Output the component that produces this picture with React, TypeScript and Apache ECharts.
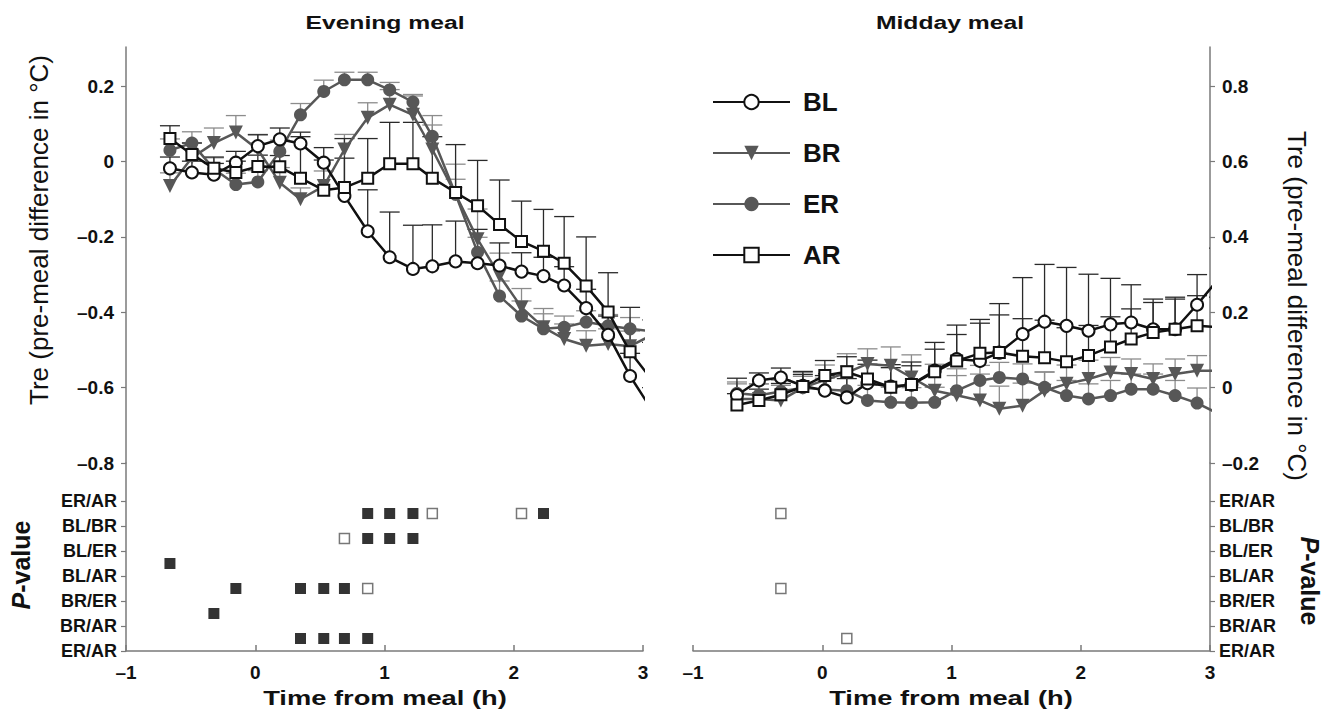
import React, { useEffect, useRef } from "react";
import * as echarts from "echarts";

// ---- data -------------------------------------------------------------
const timesH = [-0.66, -0.49, -0.32, -0.15, 0.02, 0.19, 0.35, 0.53, 0.69, 0.87, 1.04, 1.22, 1.37, 1.55, 1.72, 1.89, 2.06, 2.23, 2.39, 2.56, 2.73, 2.9, 3.07];

// Evening meal (left axis, °C)
const blEvening = [-0.018, -0.029, -0.035, -0.003, 0.041, 0.059, 0.048, -0.003, -0.091, -0.185, -0.254, -0.285, -0.278, -0.265, -0.27, -0.276, -0.292, -0.304, -0.329, -0.389, -0.46, -0.569, -0.66];
const blEveningErr = [0.03, 0.03, 0.03, 0.03, 0.03, 0.03, 0.03, 0.04, 0.1, 0.11, 0.12, 0.116, 0.11, 0.107, 0.09, 0.06, 0.05, 0.05, 0.05, 0.05, 0.05, 0.06, 0.06];
const brEvening = [-0.065, 0.01, 0.049, 0.077, 0.032, -0.056, -0.1, -0.065, 0.032, 0.116, 0.151, 0.124, 0.032, -0.087, -0.206, -0.303, -0.387, -0.44, -0.471, -0.489, -0.484, -0.49, -0.46];
const brEveningErr = [0.035, 0.04, 0.04, 0.045, 0.04, 0.04, 0.03, 0.04, 0.04, 0.04, 0.04, 0.05, 0.09, 0.08, 0.08, 0.06, 0.05, 0.05, 0.04, 0.04, 0.04, 0.04, 0.04];
const erEvening = [0.03, 0.049, -0.02, -0.061, -0.054, 0.027, 0.124, 0.186, 0.217, 0.217, 0.19, 0.158, 0.067, -0.087, -0.241, -0.357, -0.41, -0.444, -0.44, -0.426, -0.436, -0.444, -0.45];
const erEveningErr = [0.03, 0.03, 0.03, 0.03, 0.03, 0.03, 0.03, 0.03, 0.02, 0.02, 0.02, 0.02, 0.03, 0.04, 0.04, 0.04, 0.04, 0.04, 0.03, 0.03, 0.03, 0.03, 0.03];
const arEvening = [0.061, 0.019, -0.018, -0.029, -0.013, -0.014, -0.044, -0.076, -0.069, -0.044, -0.006, -0.006, -0.044, -0.082, -0.117, -0.167, -0.212, -0.238, -0.27, -0.33, -0.399, -0.505, -0.58];
const arEveningErr = [0.034, 0.03, 0.03, 0.03, 0.03, 0.03, 0.11, 0.08, 0.13, 0.105, 0.11, 0.11, 0.11, 0.127, 0.12, 0.118, 0.107, 0.111, 0.124, 0.13, 0.104, 0.118, 0.1];

// Midday meal (right axis, °C)
const blMidday = [-0.02, 0.019, 0.027, 0.005, -0.008, -0.026, 0.012, 0.003, 0.008, 0.045, 0.076, 0.071, 0.093, 0.142, 0.175, 0.164, 0.151, 0.168, 0.173, 0.155, 0.155, 0.22, 0.29];
const blMiddayErr = [0.045, 0.02, 0.025, 0.03, 0.04, 0.05, 0.05, 0.05, 0.05, 0.075, 0.09, 0.11, 0.13, 0.15, 0.152, 0.155, 0.15, 0.122, 0.1, 0.08, 0.085, 0.08, 0.08];
const brMidday = [-0.03, -0.03, -0.034, 0.0, 0.02, 0.04, 0.063, 0.058, 0.027, -0.008, -0.02, -0.034, -0.056, -0.048, -0.008, 0.01, 0.023, 0.04, 0.036, 0.023, 0.036, 0.045, 0.045];
const brMiddayErr = [0.04, 0.04, 0.04, 0.04, 0.04, 0.05, 0.04, 0.05, 0.06, 0.07, 0.07, 0.07, 0.06, 0.06, 0.05, 0.05, 0.05, 0.04, 0.04, 0.04, 0.04, 0.04, 0.04];
const erMidday = [-0.015, -0.02, -0.01, 0.0, -0.005, -0.008, -0.034, -0.039, -0.04, -0.039, -0.008, 0.019, 0.027, 0.023, 0.001, -0.021, -0.03, -0.021, -0.004, -0.004, -0.021, -0.041, -0.07];
const erMiddayErr = [0.03, 0.03, 0.03, 0.03, 0.03, 0.04, 0.04, 0.04, 0.04, 0.04, 0.04, 0.04, 0.04, 0.04, 0.04, 0.04, 0.04, 0.04, 0.04, 0.04, 0.04, 0.04, 0.04];
const arMidday = [-0.046, -0.034, -0.019, 0.003, 0.032, 0.042, 0.023, 0.001, 0.008, 0.042, 0.071, 0.091, 0.093, 0.083, 0.079, 0.069, 0.085, 0.108, 0.129, 0.146, 0.155, 0.164, 0.16];
const arMiddayErr = [0.03, 0.03, 0.03, 0.04, 0.04, 0.04, 0.05, 0.06, 0.06, 0.06, 0.07, 0.08, 0.1, 0.1, 0.1, 0.09, 0.08, 0.08, 0.08, 0.08, 0.08, 0.08, 0.08];

// P-value rows (bottom = 0)
const pairLabels = ["ER/AR", "BR/AR", "BR/ER", "BL/AR", "BL/ER", "BL/BR", "ER/AR"];
// [time (h), row position, significant (1 = filled, 0 = open)]
const pEvening: [number, number, number][] = [
  [0.87, 5.5, 1], [1.04, 5.5, 1], [1.22, 5.5, 1], [1.37, 5.5, 0], [2.06, 5.5, 0], [2.23, 5.5, 1],
  [0.69, 4.5, 0], [0.87, 4.5, 1], [1.04, 4.5, 1], [1.22, 4.5, 1],
  [-0.66, 3.5, 1],
  [-0.15, 2.5, 1], [0.35, 2.5, 1], [0.53, 2.5, 1], [0.69, 2.5, 1], [0.87, 2.5, 0],
  [-0.32, 1.5, 1],
  [0.35, 0.5, 1], [0.53, 0.5, 1], [0.69, 0.5, 1], [0.87, 0.5, 1],
];
const pMidday: [number, number, number][] = [
  [-0.32, 5.5, 0], [-0.32, 2.5, 0], [0.19, 0.5, 0],
];

const xTicks = [-1, 0, 1, 2, 3];
const eveningTicks = [-0.8, -0.6, -0.4, -0.2, 0, 0.2];
const middayTicks = [-0.2, 0, 0.2, 0.4, 0.6, 0.8];
const pairTicks = [0, 1, 2, 3, 4, 5, 6];

// ---- styles -----------------------------------------------------------
const FONT = '"Liberation Sans", Arial, Helvetica, sans-serif';
const BLACK = "#111111";
const GRAY = "#575757";
const AXIS = "#7a7a7a";

type SeriesStyle = { symbol: string; size: number; rotate: number; line: string; fill: string; border: string; bar: string };
const styles: Record<string, SeriesStyle> = {
  BL: { symbol: "circle", size: 12, rotate: 0, line: BLACK, fill: "#ffffff", border: BLACK, bar: "#2a2a2a" },
  BR: { symbol: "triangle", size: 14, rotate: 180, line: GRAY, fill: GRAY, border: GRAY, bar: "#8c8c8c" },
  ER: { symbol: "circle", size: 13, rotate: 0, line: GRAY, fill: GRAY, border: GRAY, bar: "#8c8c8c" },
  AR: { symbol: "rect", size: 11, rotate: 0, line: BLACK, fill: "#ffffff", border: BLACK, bar: "#2a2a2a" },
};

const fmtTemp = (v: number) => {
  const r = Math.round(v * 10) / 10;
  if (r === 0) return "0";
  return (r < 0 ? "\u2013" : "") + Math.abs(r).toFixed(1);
};
const fmtTime = (v: number) => (v < 0 ? "\u2013" + Math.abs(v) : String(v));

function lineSeries(name: string, vals: number[], axis: number) {
  const s = styles[name];
  return {
    type: "line",
    name,
    xAxisIndex: axis,
    yAxisIndex: axis,
    data: timesH.map((t, i) => [t, vals[i]]),
    symbol: s.symbol,
    symbolSize: s.size,
    symbolRotate: s.rotate,
    showAllSymbol: true,
    clip: true,
    z: s.line === BLACK ? 4 : 3,
    lineStyle: { color: s.line, width: 2.5 },
    itemStyle: { color: s.fill, borderColor: s.border, borderWidth: s.fill === "#ffffff" ? 2 : 0, opacity: 1 },
    emphasis: { disabled: true },
  };
}

function errSeries(name: string, vals: number[], errs: number[], axis: number) {
  const s = styles[name];
  return {
    type: "custom",
    name: name + " SEM",
    xAxisIndex: axis,
    yAxisIndex: axis,
    clip: true,
    silent: true,
    z: 2,
    data: timesH.map((t, i) => [t, vals[i], vals[i] + errs[i]]),
    encode: { x: 0, y: [1, 2] },
    renderItem: (params: any, api: any) => {
      const x = api.value(0);
      const p0 = api.coord([x, api.value(1)]);
      const p1 = api.coord([x, api.value(2)]);
      const half = 10;
      const st = { stroke: s.bar, lineWidth: 1.3 };
      return {
        type: "group",
        children: [
          { type: "line", shape: { x1: p0[0], y1: p0[1], x2: p1[0], y2: p1[1] }, style: st },
          { type: "line", shape: { x1: p1[0] - half, y1: p1[1], x2: p1[0] + half, y2: p1[1] }, style: st },
        ],
      };
    },
  };
}

function pSeries(points: [number, number, number][], axis: number) {
  return {
    type: "scatter",
    xAxisIndex: axis,
    yAxisIndex: axis,
    symbol: "rect",
    z: 3,
    data: points.map(([t, r, sig]) => ({
      value: [t, r],
      symbolSize: sig ? 11 : 10,
      itemStyle: sig ? { color: "#000000" } : { color: "#ffffff", borderColor: "#555555", borderWidth: 1.5 },
    })),
    emphasis: { disabled: true },
  };
}

const tickLabelStyle = { fontFamily: FONT, fontWeight: "bold" as const, fontSize: 19, color: BLACK };

function xAxis(grid: number, visible: boolean) {
  return {
    type: "value",
    gridIndex: grid,
    min: -1,
    max: 3,
    interval: 1,
    show: visible,
    axisLine: { show: visible, onZero: false, lineStyle: { color: AXIS, width: 1.5 } },
    axisTick: { show: visible, inside: true, length: 6, customValues: xTicks, lineStyle: { color: AXIS, width: 1.5 } },
    axisLabel: { show: visible, customValues: xTicks, formatter: fmtTime, margin: 12, ...tickLabelStyle },
    splitLine: { show: false },
  };
}

function tempYAxis(grid: number, pos: string, min: number, max: number, ticks: number[]) {
  return {
    type: "value",
    gridIndex: grid,
    position: pos,
    min,
    max,
    interval: 0.2,
    axisLine: { show: true, onZero: false, lineStyle: { color: AXIS, width: 1.5 } },
    axisTick: { show: true, length: 5, customValues: ticks, lineStyle: { color: AXIS, width: 1.2 } },
    axisLabel: { customValues: ticks, formatter: fmtTemp, margin: 12, ...tickLabelStyle },
    splitLine: { show: false },
  };
}

function pairYAxis(grid: number, pos: string) {
  return {
    type: "value",
    gridIndex: grid,
    position: pos,
    min: 0,
    max: 7.52,
    interval: 1,
    axisLine: { show: true, onZero: false, lineStyle: { color: AXIS, width: 1.5 } },
    axisTick: { show: true, length: 5, customValues: pairTicks, lineStyle: { color: AXIS, width: 1.2 } },
    axisLabel: {
      customValues: pairTicks,
      formatter: (v: number) => (Number.isInteger(v) && v >= 0 && v <= 6 ? pairLabels[v] : ""),
      margin: 9,
      fontFamily: FONT,
      fontWeight: "bold",
      fontSize: 18,
      color: BLACK,
    },
    splitLine: { show: false },
  };
}

function hText(text: string, x: number, y: number, size: number, weight = "bold") {
  return {
    type: "text",
    x,
    y,
    scaleX: 1.3,
    silent: true,
    style: {
      text,
      fontFamily: FONT,
      fontSize: size,
      fontWeight: weight,
      fill: BLACK,
      align: "center",
      verticalAlign: "middle",
      textAlign: "center",
      textVerticalAlign: "middle",
    },
  };
}

function vText(text: string, x: number, y: number, size: number, rotation: number, weight = "normal", rich?: any) {
  return {
    type: "text",
    x,
    y,
    rotation,
    silent: true,
    style: {
      text,
      fontFamily: FONT,
      fontSize: size,
      fontWeight: weight,
      fill: BLACK,
      align: "center",
      verticalAlign: "middle",
      textAlign: "center",
      textVerticalAlign: "middle",
      rich,
    },
  };
}

function buildOption() {
  const pRich = {
    i: { fontFamily: FONT, fontSize: 25, fontWeight: "bold", fontStyle: "italic", fill: BLACK, color: BLACK },
  };
  return {
    animation: false,
    backgroundColor: "#ffffff",
    grid: [
      { left: 126, top: 47, width: 517, height: 416 },
      { left: 126, top: 463, width: 517, height: 188 },
      { left: 693, top: 47, width: 517, height: 416 },
      { left: 693, top: 463, width: 517, height: 188 },
    ],
    xAxis: [xAxis(0, false), xAxis(1, true), xAxis(2, false), xAxis(3, true)],
    yAxis: [
      tempYAxis(0, "left", -0.8, 0.304, eveningTicks),
      pairYAxis(1, "left"),
      tempYAxis(2, "right", -0.2, 0.904, middayTicks),
      pairYAxis(3, "right"),
    ],
    legend: {
      data: ["BL", "BR", "ER", "AR"],
      orient: "vertical",
      left: 707,
      top: 84,
      itemWidth: 77,
      itemHeight: 18,
      itemGap: 25,
      selectedMode: false,
      textStyle: { fontFamily: FONT, fontWeight: "bold", fontSize: 26, color: BLACK, padding: [0, 0, 0, 8] },
    },
    graphic: [
      hText("Evening meal", 385, 23, 19),
      hText("Midday meal", 950, 23, 19),
      hText("Time from meal (h)", 385, 698, 21),
      hText("Time from meal (h)", 951, 698, 21),
      vText("Tre (pre-meal difference in \u00B0C)", 39, 230, 26, Math.PI / 2),
      vText("Tre (pre-meal difference in \u00B0C)", 1297, 306, 26, -Math.PI / 2),
      vText("{i|P}-value", 21, 565, 25, Math.PI / 2, "bold", pRich),
      vText("{i|P}-value", 1310, 581, 25, -Math.PI / 2, "bold", pRich),
    ],
    series: [
      errSeries("BR", brEvening, brEveningErr, 0),
      errSeries("ER", erEvening, erEveningErr, 0),
      errSeries("BL", blEvening, blEveningErr, 0),
      errSeries("AR", arEvening, arEveningErr, 0),
      lineSeries("BL", blEvening, 0),
      lineSeries("BR", brEvening, 0),
      lineSeries("ER", erEvening, 0),
      lineSeries("AR", arEvening, 0),
      errSeries("BR", brMidday, brMiddayErr, 2),
      errSeries("ER", erMidday, erMiddayErr, 2),
      errSeries("BL", blMidday, blMiddayErr, 2),
      errSeries("AR", arMidday, arMiddayErr, 2),
      lineSeries("BL", blMidday, 2),
      lineSeries("BR", brMidday, 2),
      lineSeries("ER", erMidday, 2),
      lineSeries("AR", arMidday, 2),
      pSeries(pEvening, 1),
      pSeries(pMidday, 3),
    ],
  };
}

export default function App() {
  const ref = useRef<HTMLDivElement>(null);
  useEffect(() => {
    document.body.style.margin = "0";
    if (!ref.current) return;
    const chart = echarts.init(ref.current, undefined, { renderer: "svg" });
    chart.setOption(buildOption() as any);
    return () => chart.dispose();
  }, []);
  return <div ref={ref} style={{ width: 1330, height: 718 }} />;
}
